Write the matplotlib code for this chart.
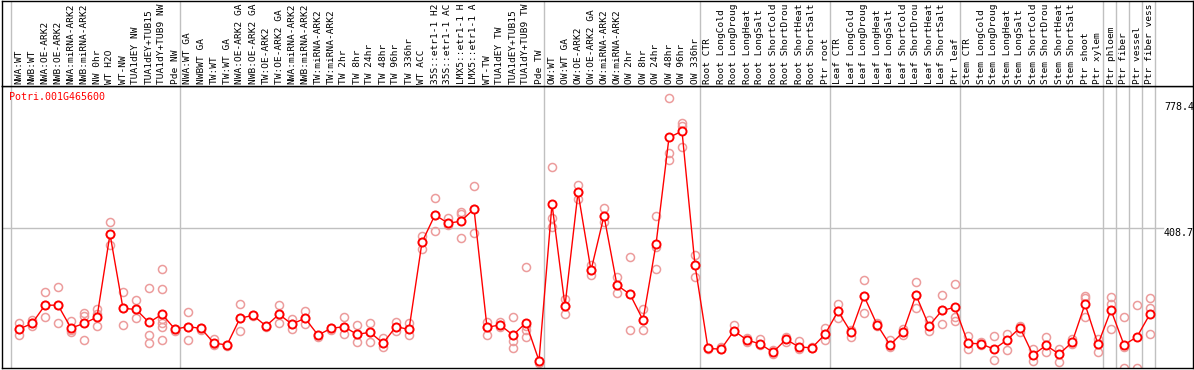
import numpy as np
import matplotlib
matplotlib.use('Agg')
from matplotlib import pyplot as plt

gene = 'Potri.001G465600'

samples = ['NWA:WT', 'NWB:WT', 'NWA:OE-ARK2', 'NWB:OE-ARK2', 'NWA:miRNA-ARK2',
           'NWB:miRNA-ARK2', 'NW 0hr', 'WT H2O', 'WT-NW', 'TUA1dEY NW',
           'TUA1dEY+TUB15', 'TUA1dY+TUB9 NW', 'Pde NW',
           'NWA:WT GA', 'NWBWT GA', 'TW:WT', 'TW:WT GA', 'NWA:OE-ARK2 GA',
           'NWB:OE-ARK2 GA', 'TW:OE-ARK2', 'TW:OE-ARK2 GA', 'NWA:miRNA-ARK2',
           'NWB:miRNA-ARK2', 'TW:miRNA-ARK2', 'TW:miRNA-ARK2', 'TW 2hr', 'TW 8hr',
           'TW 24hr', 'TW 48hr', 'TW 96hr', 'TW 336hr', 'WT ACC',
           '35S::etr1-1 H2O', '35S::etr1-1 ACC', 'LMX5::etr1-1 H2O',
           'LMX5::etr1-1 ACC', 'WT-TW', 'TUA1dEY TW', 'TUA1dEY+TUB15',
           'TUA1dY+TUB9 TW', 'Pde TW',
           'OW:WT', 'OW:WT GA', 'OW:OE-ARK2', 'OW:OE-ARK2 GA', 'OW:miRNA-ARK2',
           'OW:miRNA-ARK2', 'OW 2hr', 'OW 8hr', 'OW 24hr', 'OW 48hr', 'OW 96hr',
           'OW 336hr',
           'Root CTR', 'Root LongCold', 'Root LongDrought', 'Root LongHeat',
           'Root LongSalt', 'Root ShortCold', 'Root ShortDrought', 'Root ShortHeat',
           'Root ShortSalt', 'Ptr root',
           'Leaf CTR', 'Leaf LongCold', 'Leaf LongDrought', 'Leaf LongHeat',
           'Leaf LongSalt', 'Leaf ShortCold', 'Leaf ShortDrought', 'Leaf ShortHeat',
           'Leaf ShortSalt', 'Ptr leaf',
           'Stem CTR', 'Stem LongCold', 'Stem LongDrought', 'Stem LongHeat',
           'Stem LongSalt', 'Stem ShortCold', 'Stem ShortDrought', 'Stem ShortHeat',
           'Stem ShortSalt', 'Ptr shoot', 'Ptr xylem',
           'Ptr phloem', 'Ptr fiber', 'Ptr vessel', 'Ptr fiber vessel']

# index of first sample in each group
group_starts = [0, 13, 41, 53, 63, 73, 84, 85, 86, 87]

means = [122, 138, 190, 190, 125, 138, 156, 392, 181, 178, 141, 164, 122,
         129, 124, 82, 77, 153, 161, 131, 164, 136, 153, 105, 124, 129, 107,
         113, 82, 129, 121, 369, 447, 423, 429, 464, 127, 134, 105, 140, 32,
         478, 188, 511, 289, 444, 247, 221, 148, 363, 667, 685, 304,
         67, 65, 117, 91, 80, 56, 93, 71, 69, 107,
         173, 113, 216, 135, 77, 113, 219, 131, 175, 184,
         82, 80, 65, 91, 126, 48, 76, 51, 84, 193, 79,
         176, 77, 100, 165]

reps = [[138, 105, 122], [148, 131, 138], [227, 156, 190], [241, 138, 190],
        [146, 115, 120], [167, 160, 91], [178, 165, 131], [426, 361, 392],
        [227, 133, 181], [205, 153, 178], [238, 105, 83],
        [292, 235, 129, 140, 150, 91], [122, 118],
        [170, 91, 129], [124, 120], [93, 80, 76], [77, 75], [193, 117, 153],
        [161, 158], [131, 128], [190, 138, 164], [151, 136, 122],
        [174, 136, 153], [105, 100], [124, 120], [156, 108, 129],
        [134, 84, 107], [138, 86, 113], [96, 72, 82], [143, 117, 129],
        [138, 105, 121], [387, 350, 369], [494, 401, 447], [437, 423, 418],
        [456, 382, 450], [529, 394, 464], [143, 104, 127], [143, 134, 127],
        [156, 88, 67, 105], [298, 130, 99, 120], [25, 32],
        [582, 437, 413], [207, 165, 188], [532, 492, 511], [304, 276, 289],
        [466, 427, 444], [269, 224, 247], [327, 119, 221], [180, 119, 148],
        [444, 355, 292], [778.4, 622, 603], [707, 700, 639], [333, 271, 304],
        [67, 65], [72, 65], [133, 117], [97, 85], [94, 76], [62, 50],
        [100, 85], [87, 65], [70, 68], [124, 91, 107],
        [193, 153, 173], [120, 100], [262, 167, 216], [140, 130], [90, 70],
        [122, 104], [255, 181, 219], [148, 117], [218, 136, 175],
        [250, 157, 145],
        [102, 65], [86, 76], [102, 34], [107, 63], [130, 113], [65, 32],
        [100, 58], [65, 29], [93, 80], [216, 210, 157], [93, 56],
        [212, 193, 122], [156, 70, 10], [190, 10], [210, 181, 107]]

ytick_vals = [778.4, 408.7, 0]
ytick_labels = ['778.4', '408.7', '0']

W, H = 1194, 370
mono = 'DejaVu Sans Mono'
grid_c = '#c0c0c0'
rep_c = '#ec9c9c'

fig = plt.figure(figsize=(W / 100, H / 100), dpi=100)

# pixel layout: sample i sits at x = 19 + 13*i, value v at y = 372 - 0.3516*v
def fx(px):
    return (px - 19) / 13.0

def fy(py):
    return (372 - py) / 0.3516

ax = fig.add_axes([2 / W, 2 / H, (1193 - 2) / W, (368 - 86) / H])
hd = fig.add_axes([2 / W, 284 / H, (1193 - 2) / W, 85 / H], sharex=ax)

ax.set_xlim(fx(2), fx(1193))
ax.set_ylim(fy(368), fy(86))
hd.set_ylim(0, 85)

for a in (ax, hd):
    a.set_xticks([])
    a.set_yticks([])
    for s in a.spines.values():
        s.set_color('black')
        s.set_linewidth(1.0)

seps = [g - 0.62 for g in group_starts] + [len(samples) - 0.6]
for a in (ax, hd):
    for s in seps:
        a.axvline(s, color=grid_c, lw=1.0, zorder=1)

ax.plot([fx(2), len(samples) + 0.0], [ytick_vals[1], ytick_vals[1]],
        color=grid_c, lw=1.0, zorder=1)

x = np.arange(len(samples))
for i, r in enumerate(reps):
    ax.plot([i] * len(r), r, 'o', ms=5.8, mfc='none', mec=rep_c, mew=1.1,
            zorder=2, clip_on=True)
ax.plot(x, means, '-', color='red', lw=1.0, zorder=3)
ax.plot(x, means, 'o', ms=5.8, mfc='white', mec='red', mew=1.4, zorder=4)

# the header only has room for 14 characters per sample name
for i, s in enumerate(samples):
    hd.text(i, 2, s[:14], rotation=90, ha='center', va='bottom', fontsize=6.8,
            family=mono, color='black', clip_on=True)

ax.text(fx(9), fy(97), gene, color='red', fontsize=7.2, family=mono,
        ha='left', va='center')

offs = [-4, 0, 6]
for v, t, o in zip(ytick_vals, ytick_labels, offs):
    va = 'bottom' if v == 0 else 'top'
    ax.annotate(t, (fx(1164), v), xytext=(0, o),
                textcoords='offset pixels', fontsize=7.2, family=mono,
                ha='left', va=va, color='black')

fig.savefig('out.png', dpi=100)
